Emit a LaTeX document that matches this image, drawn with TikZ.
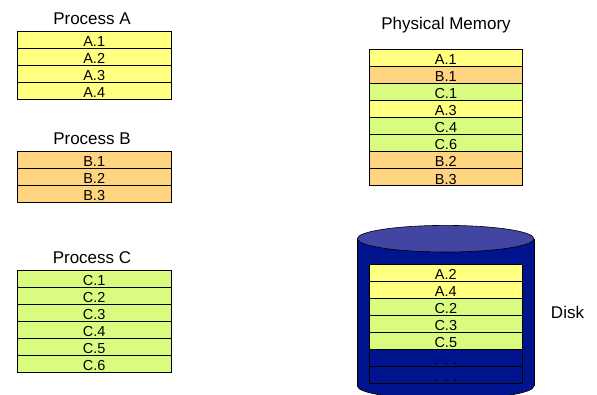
\documentclass[tikz,border=0pt]{standalone}
\usepackage{fontspec}
\setmainfont{Liberation Sans}
\definecolor{pageA}{HTML}{FFFF80}
\definecolor{pageB}{HTML}{FFD480}
\definecolor{pageC}{HTML}{D9FC80}
\definecolor{diskbody}{HTML}{00148E}
\definecolor{disktop}{HTML}{4246A2}
\begin{document}
\begin{tikzpicture}[x=1pt,y=-1pt,
  cell/.style={draw=black, line width=0.8pt, minimum width=153.5pt, minimum height=17pt,
    inner sep=0pt, text height=13.6pt, text depth=0pt,
    font=\fontsize{14.5}{16}\selectfont},
  title/.style={anchor=base, inner sep=0pt, font=\fontsize{17}{20}\selectfont}]
\useasboundingbox (0,0) rectangle (597,395);

% Process A
\node[title] (ta) at (92,25) {Process A};
\foreach \t/\c [count=\i] in {A.1/pageA, A.2/pageA, A.3/pageA, A.4/pageA}
  \node[cell, fill=\c] (a\i) at (94.2,{31+17*\i-8.5}) {\t};

% Process B
\node[title] (tb) at (92,145) {Process B};
\foreach \t/\c [count=\i] in {B.1/pageB, B.2/pageB, B.3/pageB}
  \node[cell, fill=\c] (b\i) at (94.2,{151+17*\i-8.5}) {\t};

% Process C
\node[title] (tc) at (92,263.5) {Process C};
\foreach \t/\c [count=\i] in {C.1/pageC, C.2/pageC, C.3/pageC, C.4/pageC, C.5/pageC, C.6/pageC}
  \node[cell, fill=\c] (c\i) at (94.2,{270+17*\i-8.5}) {\t};

% Physical memory frames
\node[title] (tm) at (446,30) {Physical Memory};
\foreach \t/\c [count=\i] in {A.1/pageA, B.1/pageB, C.1/pageC, A.3/pageA,
                              C.4/pageC, C.6/pageC, B.2/pageB, B.3/pageB}
  \node[cell, fill=\c, minimum height=17.1pt] (m\i) at (445.8,{49+17.1*\i-8.55}) {\t};

% Disk cylinder
\fill[diskbody, draw=black, line width=0.6pt] (445.65,386) ellipse [x radius=88.35, y radius=13.3];
\fill[diskbody] (357.3,238.7) rectangle (534,386);
\draw[line width=0.6pt] (357.3,238.7) -- (357.3,386) (534,238.7) -- (534,386);
\fill[disktop, draw=black, line width=0.6pt] (445.65,238.7) ellipse [x radius=88.35, y radius=13.3];

\foreach \t/\c [count=\i] in {A.2/pageA, A.4/pageA, C.2/pageC, C.3/pageC, C.5/pageC,
                              {. . .}/diskbody, {. . .}/diskbody}
  \node[cell, fill=\c] (d\i) at (445.8,{264.3+17*\i-8.5}) {\t};

\node[title] (tk) at (567.5,319) {Disk};
\end{tikzpicture}
\end{document}
